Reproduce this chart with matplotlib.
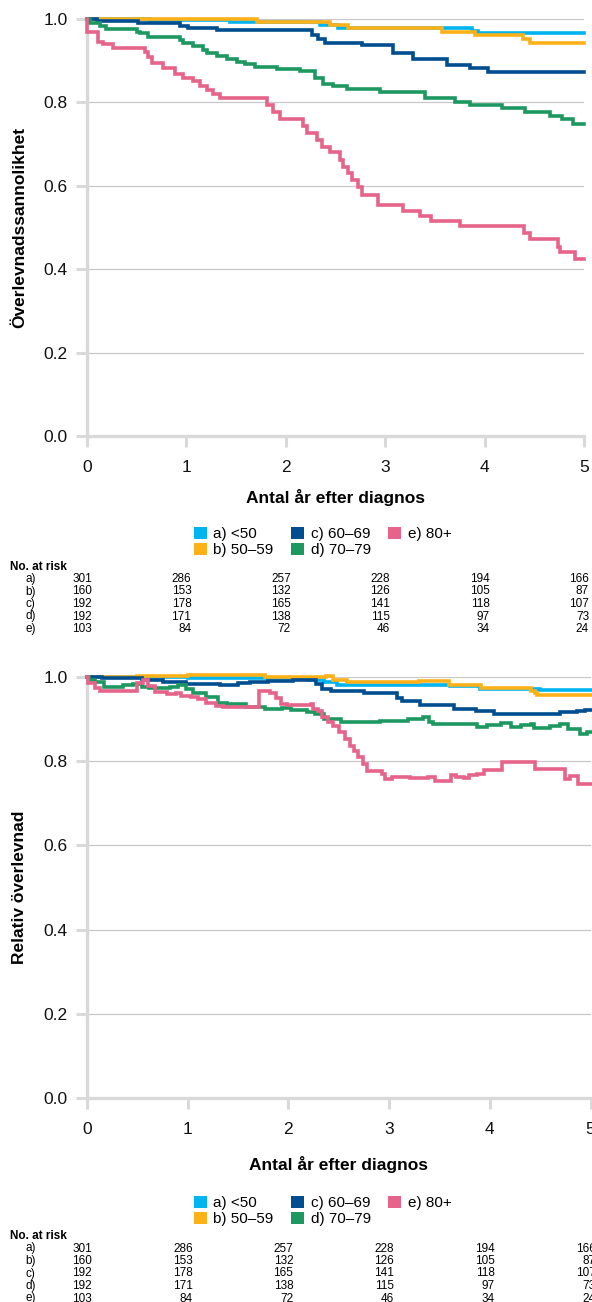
import matplotlib
matplotlib.use("Agg")
import matplotlib.pyplot as plt
from matplotlib.patches import Patch
from matplotlib import transforms

# ---------------- data ----------------
groups = ["a) <50", "b) 50\u201359", "c) 60\u201369", "d) 70\u201379", "e) 80+"]
row_labels = ["a)", "b)", "c)", "d)", "e)"]
colors = ["#00B4F0", "#FDB119", "#004E8F", "#1C9860", "#E6638A"]

# Kaplan-Meier (Överlevnadssannolikhet)
km_a_t = [0, 0.63, 1.44, 2.34, 2.53, 3.87, 3.93, 5.0]
km_a_s = [1.0, 0.997, 0.994, 0.986, 0.978, 0.972, 0.967, 0.967]
km_b_t = [0, 1.71, 2.44, 2.63, 3.57, 3.90, 4.39, 4.46, 5.0]
km_b_s = [1.0, 0.994, 0.986, 0.978, 0.970, 0.962, 0.951, 0.942, 0.942]
km_c_t = [0, 0.10, 0.51, 0.94, 1.02, 1.31, 2.26, 2.32, 2.39, 2.77, 3.08, 3.28, 3.62, 3.85, 4.03, 5.0]
km_c_s = [1.0, 0.995, 0.990, 0.983, 0.978, 0.973, 0.962, 0.951, 0.943, 0.938, 0.918, 0.904, 0.890, 0.882, 0.874, 0.874]
km_d_t = [0, 0.03, 0.13, 0.19, 0.50, 0.53, 0.61, 0.94, 0.97, 1.07, 1.17, 1.21, 1.31, 1.41, 1.51,
          1.59, 1.69, 1.91, 2.14, 2.29, 2.37, 2.47, 2.62, 2.95, 3.40, 3.70, 3.85, 4.18, 4.41,
          4.66, 4.78, 4.89, 5.0]
km_d_s = [1.0, 0.990, 0.983, 0.975, 0.970, 0.966, 0.958, 0.950, 0.942, 0.935, 0.926, 0.919, 0.911,
          0.903, 0.897, 0.892, 0.886, 0.879, 0.876, 0.858, 0.845, 0.839, 0.831, 0.826, 0.810,
          0.802, 0.794, 0.786, 0.776, 0.767, 0.759, 0.748, 0.748]
km_e_t = [0, 0.005, 0.11, 0.16, 0.26, 0.58, 0.61, 0.65, 0.76, 0.885, 0.966, 1.066, 1.137, 1.207,
          1.268, 1.338, 1.811, 1.871, 1.942, 2.173, 2.21, 2.314, 2.364, 2.445, 2.545, 2.575,
          2.626, 2.666, 2.726, 2.767, 2.928, 3.179, 3.35, 3.46, 3.75, 4.40, 4.457, 4.74, 4.76,
          4.91, 5.0]
km_e_s = [1.0, 0.970, 0.946, 0.940, 0.930, 0.922, 0.910, 0.895, 0.882, 0.868, 0.858, 0.851, 0.839,
          0.830, 0.819, 0.811, 0.794, 0.778, 0.759, 0.743, 0.726, 0.710, 0.694, 0.682, 0.662,
          0.646, 0.630, 0.614, 0.598, 0.578, 0.554, 0.540, 0.528, 0.516, 0.504, 0.488, 0.472,
          0.454, 0.442, 0.424, 0.424]

# Relativ överlevnad
rs_a_t = [0, 1.0, 1.6, 2.2, 2.35, 2.48, 2.7, 3.2, 3.6, 3.9, 4.5, 4.9, 5.0]
rs_a_s = [1.0, 0.998, 0.997, 0.994, 0.988, 0.982, 0.981, 0.980, 0.978, 0.972, 0.970, 0.969, 0.969]
rs_b_t = [0, 0.5, 1.0, 1.5, 1.77, 2.2, 2.37, 2.44, 2.58, 3.0, 3.3, 3.59, 3.91, 4.41, 4.45, 4.47, 5.0]
rs_b_s = [1.0, 1.003, 1.004, 1.005, 0.999, 1.001, 1.002, 0.994, 0.987, 0.988, 0.990, 0.982,
          0.973, 0.967, 0.962, 0.957, 0.957]
rs_c_t = [0, 0.15, 0.55, 0.75, 0.98, 1.32, 1.50, 1.62, 1.80, 2.05, 2.27, 2.33, 2.42, 2.75, 3.08,
          3.13, 3.31, 3.64, 3.86, 4.04, 4.41, 4.70, 4.87, 4.95, 5.0]
rs_c_s = [1.0, 0.997, 0.993, 0.989, 0.984, 0.981, 0.985, 0.987, 0.990, 0.993, 0.984, 0.971, 0.967,
          0.962, 0.951, 0.943, 0.934, 0.924, 0.920, 0.912, 0.913, 0.916, 0.920, 0.922, 0.922]
rs_d_t = [0, 0.02, 0.08, 0.17, 0.36, 0.46, 0.55, 0.62, 0.82, 0.90, 0.98, 1.05, 1.18, 1.30, 1.39,
          1.58, 1.77, 1.94, 2.03, 2.18, 2.26, 2.35, 2.52, 2.91, 3.19, 3.34, 3.40, 3.44, 3.87,
          3.97, 4.11, 4.21, 4.31, 4.41, 4.44, 4.60, 4.70, 4.78, 4.90, 4.97, 5.0]
rs_d_s = [1.0, 0.994, 0.987, 0.976, 0.981, 0.984, 0.976, 0.973, 0.977, 0.980, 0.971, 0.963, 0.953,
          0.939, 0.935, 0.928, 0.924, 0.926, 0.921, 0.918, 0.912, 0.900, 0.892, 0.896, 0.900,
          0.904, 0.892, 0.888, 0.882, 0.887, 0.890, 0.882, 0.886, 0.889, 0.880, 0.883, 0.888,
          0.876, 0.865, 0.869, 0.869]
rs_e_t = [0, 0.01, 0.08, 0.13, 0.50, 0.56, 0.61, 0.68, 0.79, 0.88, 0.93, 1.03, 1.10, 1.18, 1.28,
          1.35, 1.71, 1.82, 1.88, 1.93, 1.99, 2.22, 2.24, 2.29, 2.33, 2.39, 2.44, 2.50, 2.56,
          2.61, 2.65, 2.69, 2.74, 2.78, 2.93, 2.96, 3.03, 3.21, 3.39, 3.46, 3.61, 3.66, 3.74,
          3.79, 3.87, 3.94, 4.12, 4.45, 4.75, 4.80, 4.88, 5.0]
rs_e_s = [1.0, 0.985, 0.975, 0.967, 0.985, 0.993, 0.978, 0.965, 0.959, 0.963, 0.955, 0.953, 0.947,
          0.939, 0.931, 0.929, 0.967, 0.963, 0.951, 0.937, 0.934, 0.936, 0.924, 0.920, 0.904,
          0.892, 0.884, 0.869, 0.853, 0.837, 0.825, 0.809, 0.794, 0.776, 0.770, 0.758, 0.762,
          0.760, 0.762, 0.753, 0.768, 0.763, 0.761, 0.767, 0.770, 0.778, 0.798, 0.782, 0.758,
          0.766, 0.746, 0.746]

risk_times = [0, 1, 2, 3, 4, 5]
risk_a = [301, 286, 257, 228, 194, 166]
risk_b = [160, 153, 132, 126, 105, 87]
risk_c = [192, 178, 165, 141, 118, 107]
risk_d = [192, 171, 138, 115, 97, 73]
risk_e = [103, 84, 72, 46, 34, 24]

x_ticks = [0, 1, 2, 3, 4, 5]
y_ticks = [0.0, 0.2, 0.4, 0.6, 0.8, 1.0]
xlabel = "Antal år efter diagnos"
ylabel_top = "Överlevnadssannolikhet"
ylabel_bot = "Relativ överlevnad"

# ---------------- figure ----------------
plt.rcParams["font.family"] = ["Liberation Sans", "DejaVu Sans"]
W, H = 592, 1302
fig = plt.figure(figsize=(W / 100, H / 100), dpi=100)

def px_axes(l, r, t, b):
    return fig.add_axes([l / W, 1 - b / H, (r - l) / W, (b - t) / H])

ax1 = px_axes(87, 584, 19, 436)
ax2 = px_axes(87, 590.5, 677, 1098)

km = [(km_a_t, km_a_s), (km_b_t, km_b_s), (km_c_t, km_c_s), (km_d_t, km_d_s), (km_e_t, km_e_s)]
rs = [(rs_a_t, rs_a_s), (rs_b_t, rs_b_s), (rs_c_t, rs_c_s), (rs_d_t, rs_d_s), (rs_e_t, rs_e_s)]
risks = [risk_a, risk_b, risk_c, risk_d, risk_e]

spine_col = "#D9D9D9"
grid_col = "#C8C8C8"

def style(ax, ylab, ylab_x, xlab_y):
    ax.set_xlim(0, 5)
    ax.set_ylim(0, 1.0)
    ax.set_xticks(x_ticks)
    ax.set_xticklabels([str(v) for v in x_ticks])
    ax.set_yticks(y_ticks)
    ax.set_yticklabels([f"{v:.1f}" for v in y_ticks])
    for s in ["top", "right"]:
        ax.spines[s].set_visible(False)
    for s in ["left", "bottom"]:
        ax.spines[s].set_color(spine_col)
        ax.spines[s].set_linewidth(2.4)
        ax.spines[s].set_zorder(1)
    ax.tick_params(axis="both", colors=spine_col, labelcolor="#111111", labelsize=12.5,
                   length=8, width=2.2, direction="out")
    ax.tick_params(axis="x", pad=9)
    ax.tick_params(axis="y", pad=6)
    for yv in y_ticks[1:]:
        ax.axhline(yv, color=grid_col, lw=0.9, zorder=0)
    ax.set_xlabel(xlabel, fontsize=12.5, fontweight="bold")
    ax.set_ylabel(ylab, fontsize=12.5, fontweight="bold")
    ax.yaxis.set_label_coords(ylab_x, 0.5)
    ax.xaxis.set_label_coords(0.5, xlab_y)

style(ax1, ylabel_top, (27 - 87) / 497, (436 - 489) / 417)
style(ax2, ylabel_bot, (27 - 87) / 503.5, (1098 - 1156) / 421)

for ax, curves in [(ax1, km), (ax2, rs)]:
    for (t, s), c in zip(curves, colors):
        ax.step(t, s, where="post", color=c, lw=2.6, clip_on=False, zorder=3,
                solid_joinstyle="miter")

handles = [Patch(facecolor=c, edgecolor="none", label=g) for c, g in zip(colors, groups)]

def legend_at(x_px, y_px):
    fig.legend(handles=handles, loc="upper left", bbox_to_anchor=(x_px / W, 1 - y_px / H),
               ncol=3, frameon=False, fontsize=11, handlelength=0.85, handleheight=0.8,
               handletextpad=0.42, columnspacing=1.15, labelspacing=0.12, borderpad=0,
               borderaxespad=0)

legend_at(194, 527)
legend_at(194, 1196)

def risk_table(ax, y_title, y_first, dy):
    fig.text(10 / W, 1 - y_title / H, "No. at risk", fontsize=8.5, fontweight="bold",
             ha="left", va="center")
    trans = transforms.blended_transform_factory(ax.transData, fig.transFigure)
    trans = transforms.offset_copy(trans, fig=fig, x=5, y=0, units="dots")
    for i, (lab, vals) in enumerate(zip(row_labels, risks)):
        y = 1 - (y_first + i * dy) / H
        fig.text(35.5 / W, y, lab, fontsize=8.5, ha="right", va="center")
        for tv, v in zip(risk_times, vals):
            ax.text(tv, y, str(v), transform=trans, fontsize=8.5, ha="right", va="center",
                    clip_on=False)

risk_table(ax1, 566.5, 579, 12.5)
risk_table(ax2, 1236, 1248.5, 12.5)

fig.savefig("out.png", dpi=100)
